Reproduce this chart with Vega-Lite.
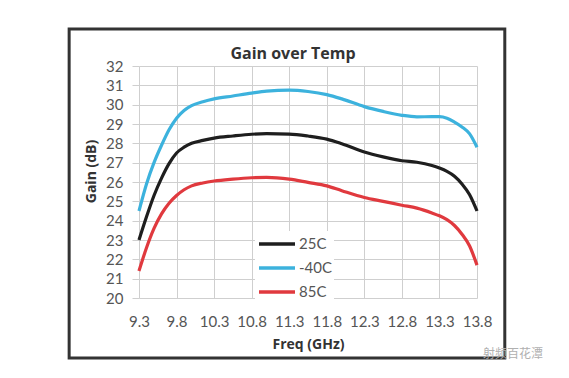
{
  "$schema": "https://vega.github.io/schema/vega-lite/v6.json",
  "autosize": "none",
  "width": 338,
  "height": 232,
  "padding": {"left": 139, "top": 66, "right": 92, "bottom": 80},
  "background": "white",
  "title": {"text": "Gain over Temp", "fontSize": 16, "font": "Open Sans", "fontWeight": "bold", "color": "#333333", "offset": 6, "dx": -15, "dy": 40},
  "config": {
    "view": {"stroke": null},
    "font": "Lato",
    "axis": {"labelFont": "Lato", "titleFont": "Open Sans", "labelColor": "#555555", "titleColor": "#333333", "labelFontSize": 15, "titleFontSize": 14, "titleFontWeight": "bold", "gridColor": "#cfcfcf", "gridWidth": 1, "gridOpacity": 1, "domain": false, "labelOverlap": false}
  },
  "datasets": {
    "curves": [
      {"freq": 9.3, "gain": 23.0, "temp": "25C"}, {"freq": 9.4, "gain": 24.2, "temp": "25C"}, {"freq": 9.5, "gain": 25.3, "temp": "25C"}, {"freq": 9.6, "gain": 26.2, "temp": "25C"}, {"freq": 9.7, "gain": 26.95, "temp": "25C"}, {"freq": 9.8, "gain": 27.5, "temp": "25C"}, {"freq": 9.9, "gain": 27.8, "temp": "25C"}, {"freq": 10.0, "gain": 28.0, "temp": "25C"}, {"freq": 10.15, "gain": 28.15, "temp": "25C"}, {"freq": 10.3, "gain": 28.27, "temp": "25C"}, {"freq": 10.55, "gain": 28.38, "temp": "25C"}, {"freq": 10.8, "gain": 28.47, "temp": "25C"}, {"freq": 11.0, "gain": 28.5, "temp": "25C"}, {"freq": 11.3, "gain": 28.48, "temp": "25C"}, {"freq": 11.55, "gain": 28.38, "temp": "25C"}, {"freq": 11.8, "gain": 28.22, "temp": "25C"}, {"freq": 12.0, "gain": 27.98, "temp": "25C"}, {"freq": 12.3, "gain": 27.55, "temp": "25C"}, {"freq": 12.55, "gain": 27.3, "temp": "25C"}, {"freq": 12.8, "gain": 27.1, "temp": "25C"}, {"freq": 13.0, "gain": 27.02, "temp": "25C"}, {"freq": 13.2, "gain": 26.85, "temp": "25C"}, {"freq": 13.3, "gain": 26.72, "temp": "25C"}, {"freq": 13.4, "gain": 26.55, "temp": "25C"}, {"freq": 13.5, "gain": 26.3, "temp": "25C"}, {"freq": 13.6, "gain": 25.9, "temp": "25C"}, {"freq": 13.7, "gain": 25.35, "temp": "25C"}, {"freq": 13.8, "gain": 24.5, "temp": "25C"},
      {"freq": 9.3, "gain": 24.5, "temp": "-40C"}, {"freq": 9.4, "gain": 25.9, "temp": "-40C"}, {"freq": 9.5, "gain": 27.0, "temp": "-40C"}, {"freq": 9.6, "gain": 27.9, "temp": "-40C"}, {"freq": 9.7, "gain": 28.7, "temp": "-40C"}, {"freq": 9.8, "gain": 29.3, "temp": "-40C"}, {"freq": 9.9, "gain": 29.7, "temp": "-40C"}, {"freq": 10.0, "gain": 29.95, "temp": "-40C"}, {"freq": 10.15, "gain": 30.15, "temp": "-40C"}, {"freq": 10.3, "gain": 30.3, "temp": "-40C"}, {"freq": 10.55, "gain": 30.45, "temp": "-40C"}, {"freq": 10.8, "gain": 30.6, "temp": "-40C"}, {"freq": 11.0, "gain": 30.7, "temp": "-40C"}, {"freq": 11.3, "gain": 30.75, "temp": "-40C"}, {"freq": 11.55, "gain": 30.68, "temp": "-40C"}, {"freq": 11.8, "gain": 30.52, "temp": "-40C"}, {"freq": 12.0, "gain": 30.3, "temp": "-40C"}, {"freq": 12.3, "gain": 29.9, "temp": "-40C"}, {"freq": 12.55, "gain": 29.65, "temp": "-40C"}, {"freq": 12.8, "gain": 29.45, "temp": "-40C"}, {"freq": 13.0, "gain": 29.37, "temp": "-40C"}, {"freq": 13.2, "gain": 29.38, "temp": "-40C"}, {"freq": 13.3, "gain": 29.38, "temp": "-40C"}, {"freq": 13.4, "gain": 29.3, "temp": "-40C"}, {"freq": 13.5, "gain": 29.1, "temp": "-40C"}, {"freq": 13.6, "gain": 28.85, "temp": "-40C"}, {"freq": 13.7, "gain": 28.5, "temp": "-40C"}, {"freq": 13.8, "gain": 27.8, "temp": "-40C"},
      {"freq": 9.3, "gain": 21.4, "temp": "85C"}, {"freq": 9.4, "gain": 22.6, "temp": "85C"}, {"freq": 9.5, "gain": 23.6, "temp": "85C"}, {"freq": 9.6, "gain": 24.35, "temp": "85C"}, {"freq": 9.7, "gain": 24.9, "temp": "85C"}, {"freq": 9.8, "gain": 25.3, "temp": "85C"}, {"freq": 9.9, "gain": 25.6, "temp": "85C"}, {"freq": 10.0, "gain": 25.8, "temp": "85C"}, {"freq": 10.15, "gain": 25.95, "temp": "85C"}, {"freq": 10.3, "gain": 26.05, "temp": "85C"}, {"freq": 10.55, "gain": 26.15, "temp": "85C"}, {"freq": 10.8, "gain": 26.22, "temp": "85C"}, {"freq": 11.0, "gain": 26.24, "temp": "85C"}, {"freq": 11.3, "gain": 26.15, "temp": "85C"}, {"freq": 11.55, "gain": 25.98, "temp": "85C"}, {"freq": 11.8, "gain": 25.8, "temp": "85C"}, {"freq": 12.0, "gain": 25.55, "temp": "85C"}, {"freq": 12.3, "gain": 25.2, "temp": "85C"}, {"freq": 12.55, "gain": 25.0, "temp": "85C"}, {"freq": 12.8, "gain": 24.8, "temp": "85C"}, {"freq": 13.0, "gain": 24.65, "temp": "85C"}, {"freq": 13.2, "gain": 24.4, "temp": "85C"}, {"freq": 13.3, "gain": 24.25, "temp": "85C"}, {"freq": 13.4, "gain": 24.05, "temp": "85C"}, {"freq": 13.5, "gain": 23.75, "temp": "85C"}, {"freq": 13.6, "gain": 23.3, "temp": "85C"}, {"freq": 13.7, "gain": 22.7, "temp": "85C"}, {"freq": 13.8, "gain": 21.7, "temp": "85C"}
    ],
    "frame": [{"f1": 8.37, "f2": 14.17, "g1": 16.9, "g2": 33.91}],
    "mark": [{"freq": 13.88, "gain": 17.1, "text": "射频百花潭"}]
  },
  "layer": [
    {
      "data": {"name": "curves"},
      "mark": {"type": "line", "interpolate": "monotone", "strokeWidth": 3.2},
      "encoding": {
        "x": {"field": "freq", "type": "quantitative", "title": "Freq (GHz)", "scale": {"domain": [9.3, 13.8], "nice": false, "zero": false},
          "axis": {"values": [9.3, 9.8, 10.3, 10.8, 11.3, 11.8, 12.3, 12.8, 13.3, 13.8], "tickCount": 30, "format": ".1f", "ticks": false, "labelPadding": 16, "titlePadding": 8, "labelFlush": false, "labelOverlap": false}},
        "y": {"field": "gain", "type": "quantitative", "title": "Gain (dB)", "scale": {"domain": [20, 32], "nice": false, "zero": false},
          "axis": {"values": [20, 21, 22, 23, 24, 25, 26, 27, 28, 29, 30, 31, 32], "tickCount": 30, "format": "d", "ticks": true, "tickSize": 7, "tickColor": "#cfcfcf", "labelPadding": 9, "titlePadding": 7, "titleY": 105, "labelFlush": false, "labelOverlap": false}},
        "color": {"field": "temp", "type": "nominal", "title": null,
          "scale": {"domain": ["25C", "-40C", "85C"], "range": ["#1e1e1e", "#3cb2dd", "#e0393e"]},
          "legend": {"orient": "none", "legendX": 116, "legendY": 165, "fillColor": "white", "padding": 2, "symbolType": "M-1,0L3,0", "symbolSize": 324, "symbolStrokeWidth": 3.5, "labelFontSize": 15, "labelColor": "#555555", "labelFont": "Lato", "labelOffset": 20, "rowPadding": 5}}
      }
    },
    {
      "data": {"name": "frame"},
      "mark": {"type": "rect", "fill": null, "stroke": "#333333", "strokeWidth": 3, "clip": false},
      "encoding": {
        "x": {"field": "f1", "type": "quantitative"},
        "x2": {"field": "f2"},
        "y": {"field": "g1", "type": "quantitative"},
        "y2": {"field": "g2"}
      }
    },
    {
      "data": {"name": "mark"},
      "mark": {"type": "text", "align": "left", "baseline": "middle", "font": "Noto Sans CJK SC", "fontSize": 12, "color": "#b0b0b0", "clip": false},
      "encoding": {
        "x": {"field": "freq", "type": "quantitative"},
        "y": {"field": "gain", "type": "quantitative"},
        "text": {"field": "text"}
      }
    }
  ]
}
